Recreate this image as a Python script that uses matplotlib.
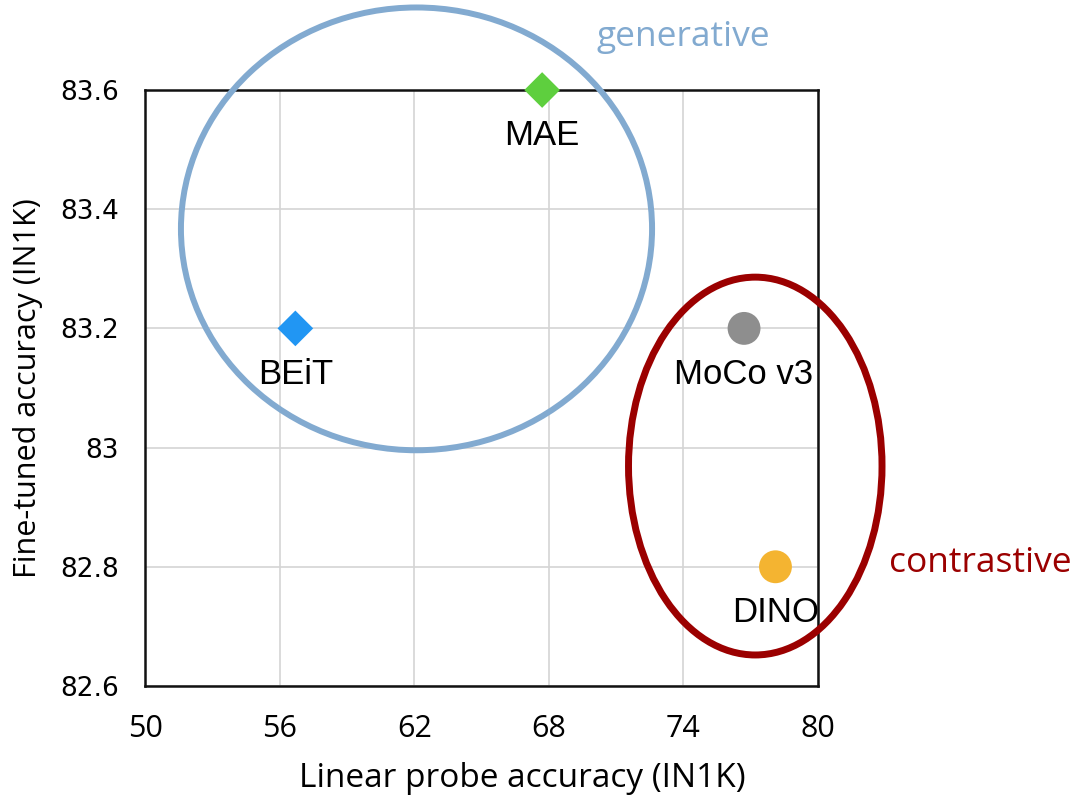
import matplotlib
matplotlib.use("Agg")
import matplotlib.pyplot as plt
from matplotlib.patches import Ellipse

# data
methods = ["MAE", "BEiT", "MoCo v3", "DINO"]
linear_probe = [67.7, 56.7, 76.7, 78.1]
fine_tuned = [83.6, 83.2, 83.2, 82.8]
markers = ["D", "D", "o", "o"]
colors = ["#5ecf3e", "#2196f3", "#8e8e8e", "#f4b431"]

x_ticks = [50, 56, 62, 68, 74, 80]
y_ticks = [82.6, 82.8, 83.0, 83.2, 83.4, 83.6]
y_tick_labels = ["82.6", "82.8", "83", "83.2", "83.4", "83.6"]

# group ellipses: (center x, center y, width, height)
gen_ellipse = (62.1, 83.367, 21.0, 0.743)
con_ellipse = (77.2, 82.969, 11.3, 0.634)

fig = plt.figure(figsize=(10.76, 7.98), dpi=100)
ax = fig.add_axes([0.1348, 0.1404, 0.6255, 0.7468])

ax.set_xlim(50, 80)
ax.set_ylim(82.6, 83.6)
ax.set_xticks(x_ticks)
ax.set_yticks(y_ticks)
ax.set_yticklabels(y_tick_labels)
ax.grid(True, color="#d4d4d4", linewidth=1.2)
ax.set_axisbelow(True)
ax.tick_params(axis="x", length=0, pad=20)
ax.tick_params(axis="y", length=0, pad=19)
for lbl in ax.get_xticklabels():
    lbl.set_fontfamily("Open Sans")
    lbl.set_fontsize(22)
for lbl in ax.get_yticklabels():
    lbl.set_fontfamily("DejaVu Sans")
    lbl.set_fontsize(19)
for sp in ax.spines.values():
    sp.set_linewidth(1.8)
    sp.set_color("#111111")

ax.set_xlabel("Linear probe accuracy (IN1K)", fontsize=24, family="Open Sans")
ax.xaxis.set_label_coords((522 - 145) / 673, -0.127)
ax.set_ylabel("Fine-tuned accuracy (IN1K)", fontsize=22, family="Open Sans", labelpad=12)

for name, x, y, m, c in zip(methods, linear_probe, fine_tuned, markers, colors):
    size = 330 if m == "D" else 560
    ax.scatter([x], [y], marker=m, s=size, color=c, edgecolors="none",
               zorder=4, clip_on=False)
    ax.annotate(name, (x, y), xytext=(0, -33), textcoords="offset points",
                ha="center", va="center", fontsize=25, family="Liberation Sans",
                zorder=5, annotation_clip=False)

gx, gy, gw, gh = gen_ellipse
ax.add_patch(Ellipse((gx, gy), gw, gh, fill=False, edgecolor="#82aad0",
                     linewidth=4.3, clip_on=False, zorder=3))
cx, cy, cw, ch = con_ellipse
ax.add_patch(Ellipse((cx, cy), cw, ch, fill=False, edgecolor="#9b0000",
                     linewidth=5, clip_on=False, zorder=3))

fig.text(683 / 1076, 1 - 37 / 798, "generative", color="#82aad0", fontsize=25.5,
         family="Open Sans", ha="center", va="center")
fig.text(980 / 1076, 1 - 563 / 798, "contrastive", color="#9b0000", fontsize=25.5,
         family="Open Sans", ha="center", va="center")

fig.savefig("out.png", dpi=100)
